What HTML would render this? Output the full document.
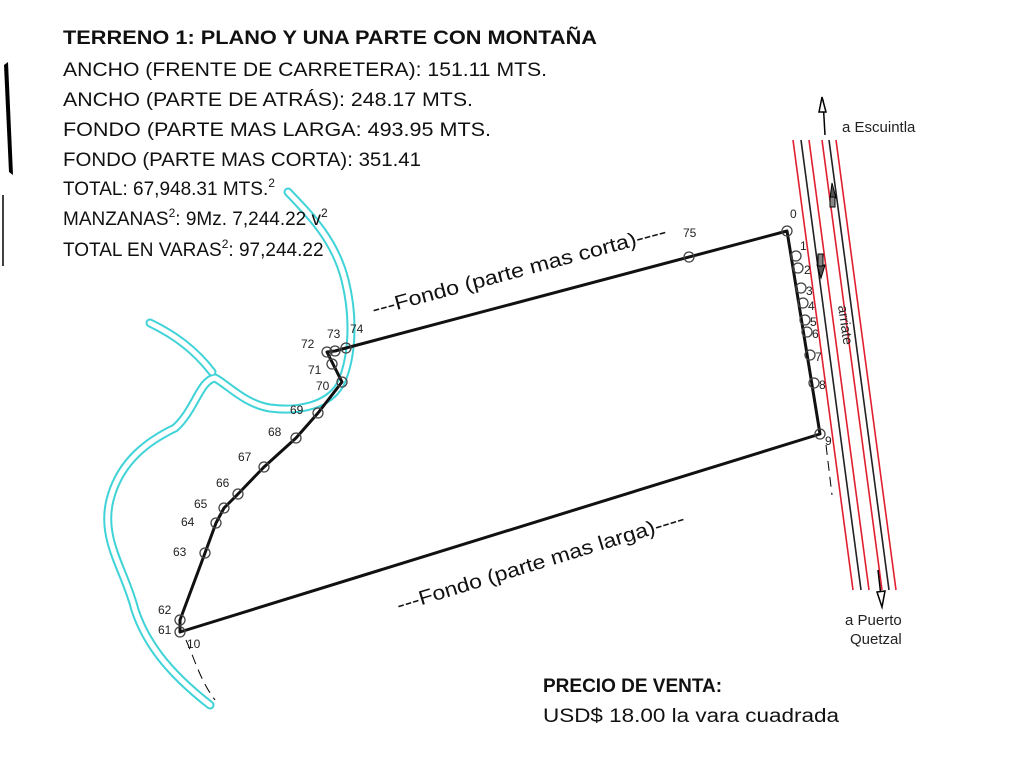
<!DOCTYPE html>
<html><head><meta charset="utf-8"><style>
html,body{margin:0;padding:0;background:#fff;}
svg{display:block;}
text{font-family:"Liberation Sans",sans-serif;}
</style></head><body>
<svg width="1024" height="768" viewBox="0 0 1024 768" xmlns="http://www.w3.org/2000/svg">
<path d="M4,65 L8,62 L13,175 L9,172 Z" fill="#000"/>
<line x1="3" y1="195" x2="3" y2="266" stroke="#000" stroke-width="1.5"/>

<g fill="none" stroke-linecap="round" stroke-linejoin="round">
<path d="M288,192 C310,215 335,240 345,280 C355,320 352,360 340,385 C328,405 300,412 270,408 C245,404 228,385 215,378 C200,380 195,410 175,428 C150,440 120,460 110,500 C100,540 125,570 135,610 C145,640 165,670 210,705" stroke="#3fd3d8" stroke-width="9"/>
<path d="M150,323 C175,335 195,350 212,372" stroke="#3fd3d8" stroke-width="9"/>
<path d="M288,192 C310,215 335,240 345,280 C355,320 352,360 340,385 C328,405 300,412 270,408 C245,404 228,385 215,378 C200,380 195,410 175,428 C150,440 120,460 110,500 C100,540 125,570 135,610 C145,640 165,670 210,705" stroke="#fff" stroke-width="5"/>
<path d="M150,323 C175,335 195,350 212,372" stroke="#fff" stroke-width="5"/>
</g>

<g stroke-width="1.6">
<line x1="793" y1="140" x2="853" y2="590" stroke="#e02030"/>
<line x1="801" y1="140" x2="861" y2="590" stroke="#222"/>
<line x1="809" y1="140" x2="869" y2="590" stroke="#e02030"/>
<line x1="822" y1="140" x2="882" y2="590" stroke="#e02030"/>
<line x1="829" y1="140" x2="889" y2="590" stroke="#222"/>
<line x1="836" y1="140" x2="896" y2="590" stroke="#e02030"/>
</g>
<line x1="823" y1="100" x2="825" y2="135" stroke="#000" stroke-width="1.5"/>
<path d="M819,112 L822,97 L826,112 Z" fill="#fff" stroke="#000" stroke-width="1.5"/>
<line x1="878" y1="570" x2="882" y2="605" stroke="#000" stroke-width="1.5"/>
<path d="M877,592 L882,607 L885,591 Z" fill="#fff" stroke="#000" stroke-width="1.5"/>
<path d="M830,198 L832,183 L836,198 Z" fill="#555" stroke="#000"/>
<rect x="830" y="197" width="5" height="10" fill="#888" stroke="#000"/>
<path d="M817,265 L821,278 L825,265 Z" fill="#555" stroke="#000"/>
<rect x="818" y="254" width="5" height="12" fill="#888" stroke="#000"/>
<line x1="826" y1="445" x2="832" y2="495" stroke="#000" stroke-dasharray="10,6"/>
<path d="M186,640 C195,660 200,680 215,700" fill="none" stroke="#000" stroke-dasharray="10,6"/>

<polyline points="346,348 787,231 820,434 180,632 180,620 205,553 216,523 224,508 238,494 264,467 296,438 318,413 342,382 332,362 327,352 335,351 346,348" fill="none" stroke="#111" stroke-width="3" stroke-linejoin="round"/>
<g fill="none" stroke="#444" stroke-width="1.3">
<circle cx="689" cy="257" r="5"/><circle cx="787" cy="231" r="5"/>
<circle cx="796" cy="256" r="5"/><circle cx="798" cy="268" r="5"/><circle cx="801" cy="288" r="5"/>
<circle cx="803" cy="303" r="5"/><circle cx="805" cy="320" r="5"/><circle cx="807" cy="332" r="5"/>
<circle cx="810" cy="355" r="5"/><circle cx="814" cy="383" r="5"/><circle cx="820" cy="434" r="5"/>
<circle cx="180" cy="632" r="5"/><circle cx="180" cy="620" r="5"/><circle cx="205" cy="553" r="5"/>
<circle cx="216" cy="523" r="5"/><circle cx="224" cy="508" r="5"/><circle cx="238" cy="494" r="5"/>
<circle cx="264" cy="467" r="5"/><circle cx="296" cy="438" r="5"/><circle cx="318" cy="413" r="5"/>
<circle cx="342" cy="382" r="5"/><circle cx="332" cy="364" r="5"/><circle cx="327" cy="352" r="5"/>
<circle cx="335" cy="351" r="5"/><circle cx="346" cy="348" r="5"/>
</g>
<g font-size="12" fill="#222">
<text x="683" y="237">75</text><text x="790" y="218">0</text><text x="800" y="250">1</text>
<text x="804" y="274">2</text><text x="806" y="295">3</text><text x="808" y="310">4</text>
<text x="810" y="326">5</text><text x="812" y="338">6</text><text x="815" y="361">7</text>
<text x="819" y="389">8</text><text x="825" y="445">9</text>
<text x="187" y="648">10</text><text x="158" y="634">61</text><text x="158" y="614">62</text>
<text x="173" y="556">63</text><text x="181" y="526">64</text><text x="194" y="508">65</text>
<text x="216" y="487">66</text><text x="238" y="461">67</text><text x="268" y="436">68</text>
<text x="290" y="414">69</text><text x="316" y="390">70</text><text x="308" y="374">71</text>
<text x="301" y="348">72</text><text x="327" y="338">73</text><text x="350" y="333">74</text>
</g>
<text x="842" y="132" font-size="15" fill="#222">a Escuintla</text>
<text x="845" y="625" font-size="15" fill="#222">a Puerto</text>
<text x="850" y="644" font-size="15" fill="#222">Quetzal</text>
<text transform="translate(838,306) rotate(82)" font-size="14" fill="#222">arriate</text>

<text transform="translate(374,316) rotate(-15)" font-size="20" fill="#111" textLength="304" lengthAdjust="spacingAndGlyphs">---Fondo (parte mas corta)----</text>
<text transform="translate(399,612) rotate(-17)" font-size="20" fill="#111" textLength="300" lengthAdjust="spacingAndGlyphs">---Fondo (parte mas larga)----</text>

<g font-size="19" fill="#111">
<text x="63" y="44" font-weight="bold" textLength="534" lengthAdjust="spacingAndGlyphs">TERRENO 1:  PLANO Y UNA PARTE CON MONTAÑA</text>
<text x="63" y="76" textLength="484" lengthAdjust="spacingAndGlyphs">ANCHO (FRENTE DE CARRETERA): 151.11 MTS.</text>
<text x="63" y="106" textLength="410" lengthAdjust="spacingAndGlyphs">ANCHO (PARTE DE ATRÁS): 248.17 MTS.</text>
<text x="63" y="136" textLength="428" lengthAdjust="spacingAndGlyphs">FONDO (PARTE MAS LARGA: 493.95 MTS.</text>
<text x="63" y="166" textLength="358" lengthAdjust="spacingAndGlyphs">FONDO (PARTE MAS CORTA): 351.41</text>
<text x="63" y="195">TOTAL: 67,948.31 MTS.<tspan font-size="12" dy="-8">2</tspan></text>
<text x="63" y="225">MANZANAS<tspan font-size="12" dy="-8">2</tspan><tspan dy="8">:  9Mz. 7,244.22 v</tspan><tspan font-size="12" dy="-8">2</tspan></text>
<text x="63" y="256">TOTAL EN VARAS<tspan font-size="12" dy="-8">2</tspan><tspan dy="8">: 97,244.22</tspan></text>
</g>
<text x="543" y="692" font-size="19" font-weight="bold" fill="#111">PRECIO DE VENTA:</text>
<text x="543" y="722" font-size="19" fill="#111" textLength="296" lengthAdjust="spacingAndGlyphs">USD$ 18.00 la vara cuadrada</text>
</svg>
</body></html>
